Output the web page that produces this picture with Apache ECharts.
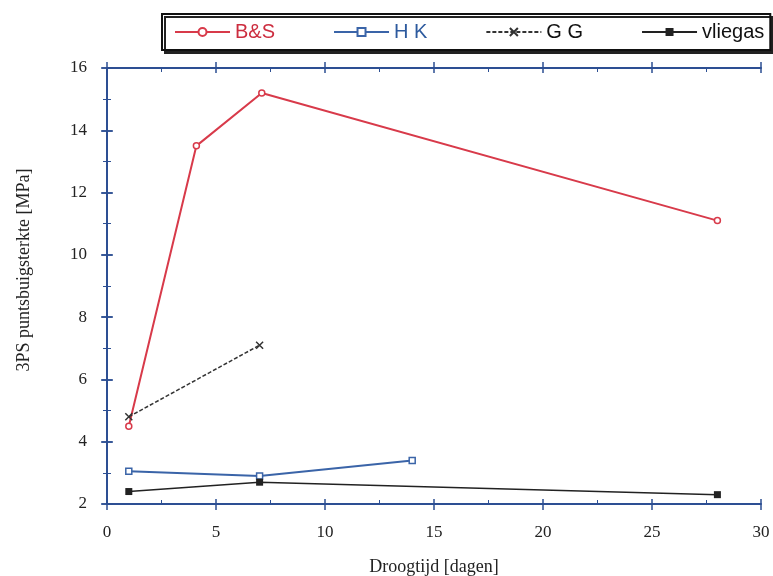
<!DOCTYPE html>
<html>
<head>
<meta charset="utf-8">
<script src="https://cdn.jsdelivr.net/npm/echarts@6/dist/echarts.min.js"></script>
<style>
  html, body { margin: 0; padding: 0; background: #fff; }
  #main { width: 773px; height: 576px; }
</style>
</head>
<body>
<div id="main"></div>
<script>
// data
var seriesNames = ['B&S', 'H K', 'G G', 'vliegas'];
var bsData = [[1, 4.5], [4.1, 13.5], [7.1, 15.2], [28, 11.1]];
var hkData = [[1, 3.05], [7, 2.9], [14, 3.4]];
var ggData = [[1, 4.8], [7, 7.1]];
var vliegasData = [[1, 2.4], [7, 2.7], [28, 2.3]];
var xTicks = [0, 5, 10, 15, 20, 25, 30];
var yTicks = [2, 4, 6, 8, 10, 12, 14, 16];

var axisBlue = '#2d4f93';
var serif = 'Liberation Serif';
var chart = echarts.init(document.getElementById('main'));

var gridRect = { left: 107, right: 12, top: 68, bottom: 72, outerBoundsMode: 'none' };

// inner axes: line, inward ticks, labels
function axisBase(extra) {
    var a = {
        axisLine: { show: true, lineStyle: { color: axisBlue, width: 2 } },
        axisTick: { show: true, inside: true, length: 5, lineStyle: { color: axisBlue, width: 1.5 } },
        minorTick: { show: true, splitNumber: 2, length: 4, lineStyle: { color: axisBlue } },
        splitLine: { show: false },
        axisLabel: { color: '#222', fontFamily: serif, fontSize: 17, margin: 20 }
    };
    for (var k in extra) a[k] = extra[k];
    return a;
}
// outer copies: only the outward half of the crossing major ticks
function outerAxis(extra) {
    var a = {
        gridIndex: 1,
        axisLine: { show: false },
        axisTick: { show: true, inside: false, length: 6, lineStyle: { color: axisBlue, width: 1.5 } },
        axisLabel: { show: false },
        splitLine: { show: false }
    };
    for (var k in extra) a[k] = extra[k];
    return a;
}

chart.setOption({
    backgroundColor: '#fff',
    animation: false,
    grid: [gridRect, gridRect],
    legend: {
        data: [
            { name: 'B&S', textStyle: { color: '#cc2d3f' } },
            { name: 'H K', textStyle: { color: '#2d5a9e' } },
            { name: 'G G', textStyle: { color: '#111' } },
            { name: 'vliegas', textStyle: { color: '#111' } }
        ],
        left: 162, top: 14,
        padding: [8, 6, 8, 12],
        itemWidth: 55, itemHeight: 10, itemGap: 58,
        backgroundColor: '#fff',
        borderColor: '#111', borderWidth: 2,
        shadowColor: '#222', shadowOffsetX: 3, shadowOffsetY: 3, shadowBlur: 0,
        textStyle: { fontFamily: 'Liberation Sans', fontSize: 20 }
    },
    xAxis: [
        axisBase({
            type: 'value', position: 'bottom', min: 0, max: 30, interval: 5,
            name: 'Droogtijd [dagen]', nameLocation: 'middle', nameGap: 54,
            nameTextStyle: { fontFamily: serif, fontSize: 18, color: '#222' }
        }),
        axisBase({
            type: 'value', position: 'top', min: 0, max: 30, interval: 5,
            axisLabel: { show: false }
        }),
        outerAxis({ type: 'value', position: 'bottom', min: 0, max: 30, interval: 5 }),
        outerAxis({ type: 'value', position: 'top', min: 0, max: 30, interval: 5 })
    ],
    yAxis: [
        axisBase({
            type: 'value', position: 'left', min: 2, max: 16, interval: 2,
            name: '3PS puntsbuigsterkte [MPa]', nameLocation: 'middle', nameGap: 74,
            nameTextStyle: { fontFamily: serif, fontSize: 18, color: '#222', padding: [0, 0, 0, 32] }
        }),
        axisBase({
            type: 'value', position: 'right', min: 2, max: 16, interval: 2,
            axisLabel: { show: false }
        }),
        outerAxis({ type: 'value', position: 'left', min: 2, max: 16, interval: 2 }),
        outerAxis({ type: 'value', position: 'right', min: 2, max: 16, interval: 2 })
    ],
    series: [
        {
            name: seriesNames[0], type: 'line', data: bsData,
            symbol: 'circle', symbolSize: 6,
            lineStyle: { color: '#d83a4a', width: 2 },
            itemStyle: { color: '#fff', borderColor: '#d83a4a', borderWidth: 1.5 }
        },
        {
            name: seriesNames[1], type: 'line', data: hkData,
            symbol: 'rect', symbolSize: 6,
            lineStyle: { color: '#3a64a8', width: 2 },
            itemStyle: { color: '#fff', borderColor: '#3a64a8', borderWidth: 1.5 }
        },
        {
            name: seriesNames[2], type: 'line', data: ggData,
            symbol: 'path://M0,0L10,10M10,0L0,10', symbolSize: 7,
            lineStyle: { color: '#333', width: 1.5, type: [4, 2] },
            itemStyle: { color: '#333', borderColor: '#333', borderWidth: 1.5 }
        },
        {
            name: seriesNames[3], type: 'line', data: vliegasData,
            symbol: 'rect', symbolSize: 7,
            lineStyle: { color: '#222', width: 1.5 },
            itemStyle: { color: '#222' }
        }
    ]
});
</script>
</body>
</html>
